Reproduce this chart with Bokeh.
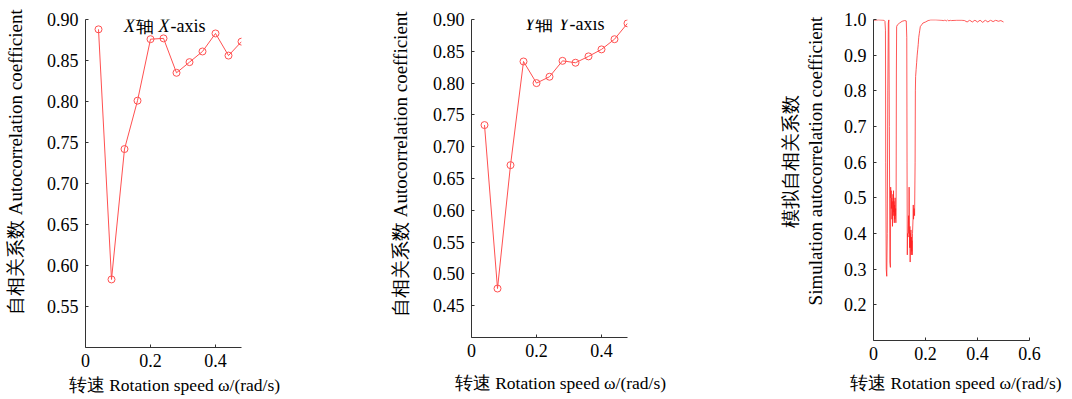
import math
from bokeh.plotting import figure
from bokeh.models import Label, FixedTicker, Range1d, NumeralTickFormatter
from bokeh.layouts import row
from bokeh.embed import file_html
from bokeh.resources import INLINE

# ---------------- data ----------------
speed = [0.04, 0.08, 0.12, 0.16, 0.20, 0.24, 0.28, 0.32, 0.36, 0.40, 0.44, 0.48]
coef_x_axis = [0.888, 0.583, 0.742, 0.801, 0.876, 0.877, 0.835, 0.848, 0.861, 0.883, 0.856, 0.873]
coef_y_axis = [0.734, 0.477, 0.671, 0.834, 0.800, 0.810, 0.835, 0.832, 0.842, 0.853, 0.869, 0.894]

sim_speed = [0.000, 0.020, 0.040, 0.044, 0.046, 0.047, 0.049, 0.051, 0.053, 0.055, 0.057, 0.059,
             0.061, 0.063, 0.065, 0.066, 0.067, 0.068, 0.069, 0.070, 0.071, 0.072, 0.073, 0.074,
             0.075, 0.076, 0.077, 0.078, 0.079, 0.080, 0.081, 0.082, 0.083, 0.084, 0.085, 0.086,
             0.087, 0.088, 0.089, 0.092, 0.100, 0.110, 0.120, 0.126, 0.128, 0.129, 0.130, 0.131,
             0.133, 0.135, 0.136, 0.137, 0.138, 0.139, 0.140, 0.141, 0.142, 0.143, 0.144, 0.145,
             0.146, 0.147, 0.148, 0.149, 0.150, 0.152, 0.153, 0.154, 0.156, 0.158, 0.160, 0.161,
             0.162, 0.164, 0.166, 0.168, 0.170, 0.172, 0.174, 0.176, 0.178, 0.180, 0.185, 0.190,
             0.200, 0.210, 0.220, 0.240, 0.260, 0.270, 0.275, 0.280, 0.285, 0.290, 0.295, 0.300,
             0.320, 0.340, 0.350, 0.360, 0.370, 0.380, 0.390, 0.400, 0.410, 0.420, 0.430, 0.440,
             0.450, 0.460, 0.470, 0.480, 0.490, 0.500]
sim_coef = [0.998, 0.999, 0.998, 0.995, 0.970, 0.600, 0.300, 0.280, 0.400, 0.800, 0.990, 0.999,
            0.700, 0.320, 0.305, 0.530, 0.500, 0.520, 0.470, 0.500, 0.440, 0.490, 0.420, 0.470,
            0.510, 0.450, 0.520, 0.460, 0.490, 0.430, 0.480, 0.440, 0.500, 0.450, 0.470, 0.430,
            0.480, 0.850, 0.980, 0.985, 0.990, 0.995, 0.997, 0.996, 0.950, 0.600, 0.340, 0.400,
            0.390, 0.450, 0.400, 0.530, 0.420, 0.360, 0.420, 0.320, 0.400, 0.360, 0.410, 0.340,
            0.390, 0.350, 0.380, 0.340, 0.400, 0.440, 0.480, 0.440, 0.470, 0.450, 0.600, 0.800,
            0.840, 0.860, 0.880, 0.900, 0.915, 0.930, 0.950, 0.960, 0.970, 0.980, 0.985, 0.990,
            0.993, 0.997, 0.999, 0.999, 0.998, 0.997, 0.999, 0.996, 0.999, 0.996, 0.998, 0.997,
            0.998, 0.998, 0.997, 0.993, 0.998, 0.993, 0.998, 0.993, 0.998, 0.992, 0.998, 0.993,
            0.998, 0.994, 0.998, 0.995, 0.997, 0.993]

x_ticks_12 = [0, 0.2, 0.4]
x_ticks_3 = [0, 0.2, 0.4, 0.6]
y_ticks_1 = [0.55, 0.60, 0.65, 0.70, 0.75, 0.80, 0.85, 0.90]
y_ticks_2 = [0.45, 0.50, 0.55, 0.60, 0.65, 0.70, 0.75, 0.80, 0.85, 0.90]
y_ticks_3 = [0.2, 0.3, 0.4, 0.5, 0.6, 0.7, 0.8, 0.9, 1.0]

x_label_12 = "转速 Rotation speed ω/(rad/s)"
x_label_3 = "转速  Rotation speed ω/(rad/s)"
y_label_12 = "自相关系数 Autocorrelation coefficient"
y_label_3 = ["模拟自相关系数", "Simulation autocorrelation coefficient"]

RED = "#ff5050"
AXC = "#333333"
FONT = "Liberation Serif"
NB = "\u00a0"

# page geometry of each panel (pixels)
g1 = dict(L=85, lb=85, fw=156, rb=140, T=17, fh=328, bb=54, x0=0, x1=0.48, y0=0.50, y1=0.90)
g2 = dict(L=471, lb=90, fw=156, rb=146, T=19, fh=318, bb=62, x0=0, x1=0.48, y0=0.40, y1=0.90)
g3 = dict(L=873, lb=100, fw=156, rb=43, T=19, fh=321, bb=59, x0=0, x1=0.60, y0=0.10, y1=1.00)


def make_fig(g, xticks, yticks, yfmt, xlabel, ylabel, xstand, ystand):
    p = figure(frame_width=g['fw'], frame_height=g['fh'],
               min_border_left=g['lb'], min_border_right=g['rb'],
               min_border_top=g['T'], min_border_bottom=g['bb'],
               x_range=Range1d(g['x0'], g['x1']), y_range=Range1d(g['y0'], g['y1']),
               output_backend="svg", toolbar_location=None)
    p.grid.visible = False
    p.outline_line_color = None
    p.background_fill_color = "white"
    p.border_fill_color = "white"
    for ax in (p.xaxis[0], p.yaxis[0]):
        ax.major_tick_in = 3
        ax.major_tick_out = 0
        ax.minor_tick_line_color = None
        ax.axis_line_color = AXC
        ax.major_tick_line_color = AXC
        ax.major_label_text_font = FONT
        ax.major_label_text_font_size = "18px"
        ax.major_label_text_color = "black"
        ax.axis_label_text_font = FONT
        ax.axis_label_text_font_style = "normal"
        ax.axis_label_text_color = "black"
    p.xaxis.major_label_standoff = 6
    p.yaxis.major_label_standoff = 7
    p.xaxis.ticker = FixedTicker(ticks=xticks)
    p.yaxis.ticker = FixedTicker(ticks=yticks)
    p.xaxis.formatter = NumeralTickFormatter(format="0.[0]")
    p.yaxis.formatter = NumeralTickFormatter(format=yfmt)
    p.xaxis.axis_label = xlabel
    p.xaxis.axis_label_text_font_size = "17.5px"
    p.xaxis.axis_label_standoff = xstand
    p.yaxis.axis_label = ylabel
    p.yaxis.axis_label_text_font_size = "19px"
    p.yaxis.axis_label_standoff = ystand
    p.yaxis.axis_label_text_line_height = 1.2
    return p


def add_text(p, g, px, py, text, size, italic=False):
    x = g['x0'] + (px - g['L']) / g['fw'] * (g['x1'] - g['x0'])
    y = g['y1'] - (py - g['T']) / g['fh'] * (g['y1'] - g['y0'])
    p.add_layout(Label(x=x, y=y, text=text, text_font=FONT,
                       text_font_size=f"{size}px",
                       text_font_style="italic" if italic else "normal",
                       text_align="left", text_baseline="alphabetic",
                       text_color="black"))


# ---------------- panel 1 ----------------
p1 = make_fig(g1, x_ticks_12, y_ticks_1, "0.00",
              NB * 5 + x_label_12, NB * 9 + y_label_12, 5, 18)
p1.line(speed, coef_x_axis, line_color=RED, line_width=1)
p1.scatter(speed, coef_x_axis, marker="circle", size=7, fill_color=None, line_color=RED, line_width=1)
add_text(p1, g1, 123.5, 23.5, "X", 18, italic=True)
add_text(p1, g1, 135, 23.5, "轴", 18)
add_text(p1, g1, 158, 23.5, "X", 18, italic=True)
add_text(p1, g1, 170, 23.5, "-axis", 18)

# ---------------- panel 2 ----------------
p2 = make_fig(g2, x_ticks_12, y_ticks_2, "0.00",
              NB * 5 + x_label_12, NB * 6 + y_label_12, 13, 19)
p2.line(speed, coef_y_axis, line_color=RED, line_width=1)
p2.scatter(speed, coef_y_axis, marker="circle", size=7, fill_color=None, line_color=RED, line_width=1)
add_text(p2, g2, 524.3, 23, "Y", 18, italic=True)
add_text(p2, g2, 534.5, 23, "轴", 18)
add_text(p2, g2, 558.3, 23, "Y", 18, italic=True)
add_text(p2, g2, 569, 23, "-axis", 18)

# ---------------- panel 3 ----------------
p3 = make_fig(g3, x_ticks_3, y_ticks_3, "0.0",
              NB * 3 + x_label_3, "\n".join(NB * 8 + s for s in y_label_3), 10, 15)
p3.line(sim_speed, sim_coef, line_color="#ff2020", line_alpha=0.75, line_width=1)

layout = row(p1, p2, p3, spacing=0)
open("out.html", "w").write(file_html(layout, INLINE))
